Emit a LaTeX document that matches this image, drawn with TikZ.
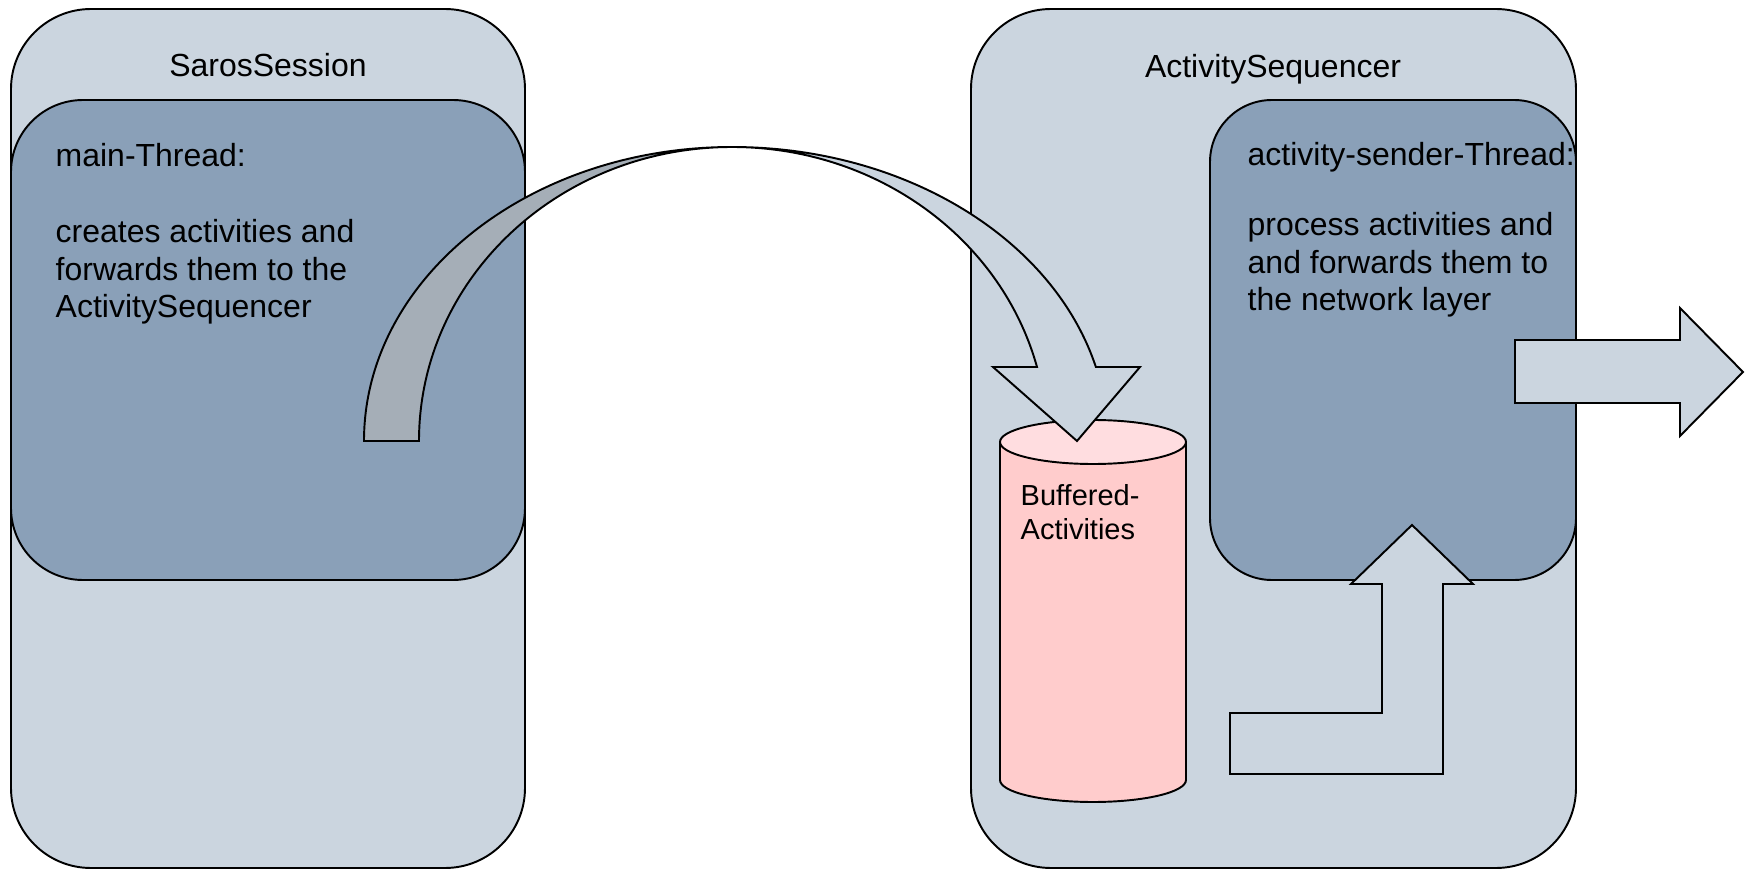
\documentclass[tikz,border=0pt]{standalone}
\usepackage{fontspec}
\setmainfont{Liberation Sans}
\usetikzlibrary{calc}

\definecolor{outerfill}{HTML}{CBD5DF}
\definecolor{threadfill}{HTML}{8AA0B8}
\definecolor{bendfill}{HTML}{A5AEB7}
\definecolor{buftop}{HTML}{FFDDE0}
\definecolor{bufbody}{HTML}{FFCCCC}

\begin{document}
\begin{tikzpicture}[
  outline/.style={draw=black, line width=0.55pt},
  box/.style={outline, rounded corners=#1},
  titletxt/.style={font=\fontsize{9.1}{10.8}\selectfont, inner sep=0pt, anchor=base},
  threadtxt/.style={font=\fontsize{9.1}{10.8}\selectfont, inner sep=0pt, align=left, anchor=base west},
  buftxt/.style={font=\fontsize{8.25}{9.95}\selectfont, inner sep=0pt, align=left, anchor=base west}
]
\useasboundingbox (0,0) rectangle (17.48,8.71);

% Session and sequencer
\draw[box=0.8cm, fill=outerfill] (0.11,0.03) rectangle (5.25,8.62);
\draw[box=0.72cm, fill=threadfill] (0.11,2.91) rectangle (5.25,7.71);
\draw[box=0.8cm, fill=outerfill] (9.71,0.03) rectangle (15.76,8.62);
\draw[box=0.62cm, fill=threadfill] (12.10,2.91) rectangle (15.76,7.71);

\node[titletxt] (session) at (2.68,7.94) {SarosSession};
\node[titletxt] (sequencer) at (12.73,7.93) {ActivitySequencer};

% base of a multi-line node = its last line
\node[threadtxt] (mainthread) at (0.55,5.53)
  {main-Thread:\\[10.8pt]creates activities and\\forwards them to the\\ActivitySequencer};
\node[threadtxt] (senderthread) at (12.47,5.60)
  {activity-sender-Thread:\\[8.9pt]process activities and\\and forwards them to\\the network layer};

% Buffer
\draw[outline, fill=bufbody] (10.00,4.29) -- (10.00,0.91)
  arc[start angle=180, end angle=360, x radius=0.93cm, y radius=0.22cm] -- (11.86,4.29);
\draw[outline, fill=buftop] (10.93,4.29) ellipse [x radius=0.93cm, y radius=0.22cm];
\node[buftxt] (buffer) at (10.20,3.31) {Buffered-\\Activities};

% Bent arrow into the buffer
\draw[outline, fill=bendfill] (3.64,4.30)
  arc[start angle=180, end angle=90, x radius=3.68cm, y radius=2.94cm]
  arc[start angle=90, end angle=180, x radius=3.13cm, y radius=2.94cm] -- cycle;
\draw[outline, fill=outerfill] (7.32,7.24)
  arc[start angle=90, end angle=14.58, x radius=3.76cm, y radius=2.94cm]
  -- (11.40,5.04) -- (10.77,4.30) -- (9.93,5.04) -- (10.37,5.04)
  arc[start angle=14.58, end angle=90, x radius=3.15cm, y radius=2.94cm] -- cycle;

% Out to the network
\draw[outline, fill=outerfill] (15.15,5.31) -- (16.80,5.31) -- (16.80,5.63)
  -- (17.43,4.99) -- (16.80,4.35) -- (16.80,4.68) -- (15.15,4.68) -- cycle;

% From the buffer up to the sender
\draw[outline, fill=outerfill] (12.30,1.58) -- (13.82,1.58) -- (13.82,2.87)
  -- (13.51,2.87) -- (14.12,3.46) -- (14.73,2.87) -- (14.43,2.87)
  -- (14.43,0.97) -- (12.30,0.97) -- cycle;
\end{tikzpicture}
\end{document}
